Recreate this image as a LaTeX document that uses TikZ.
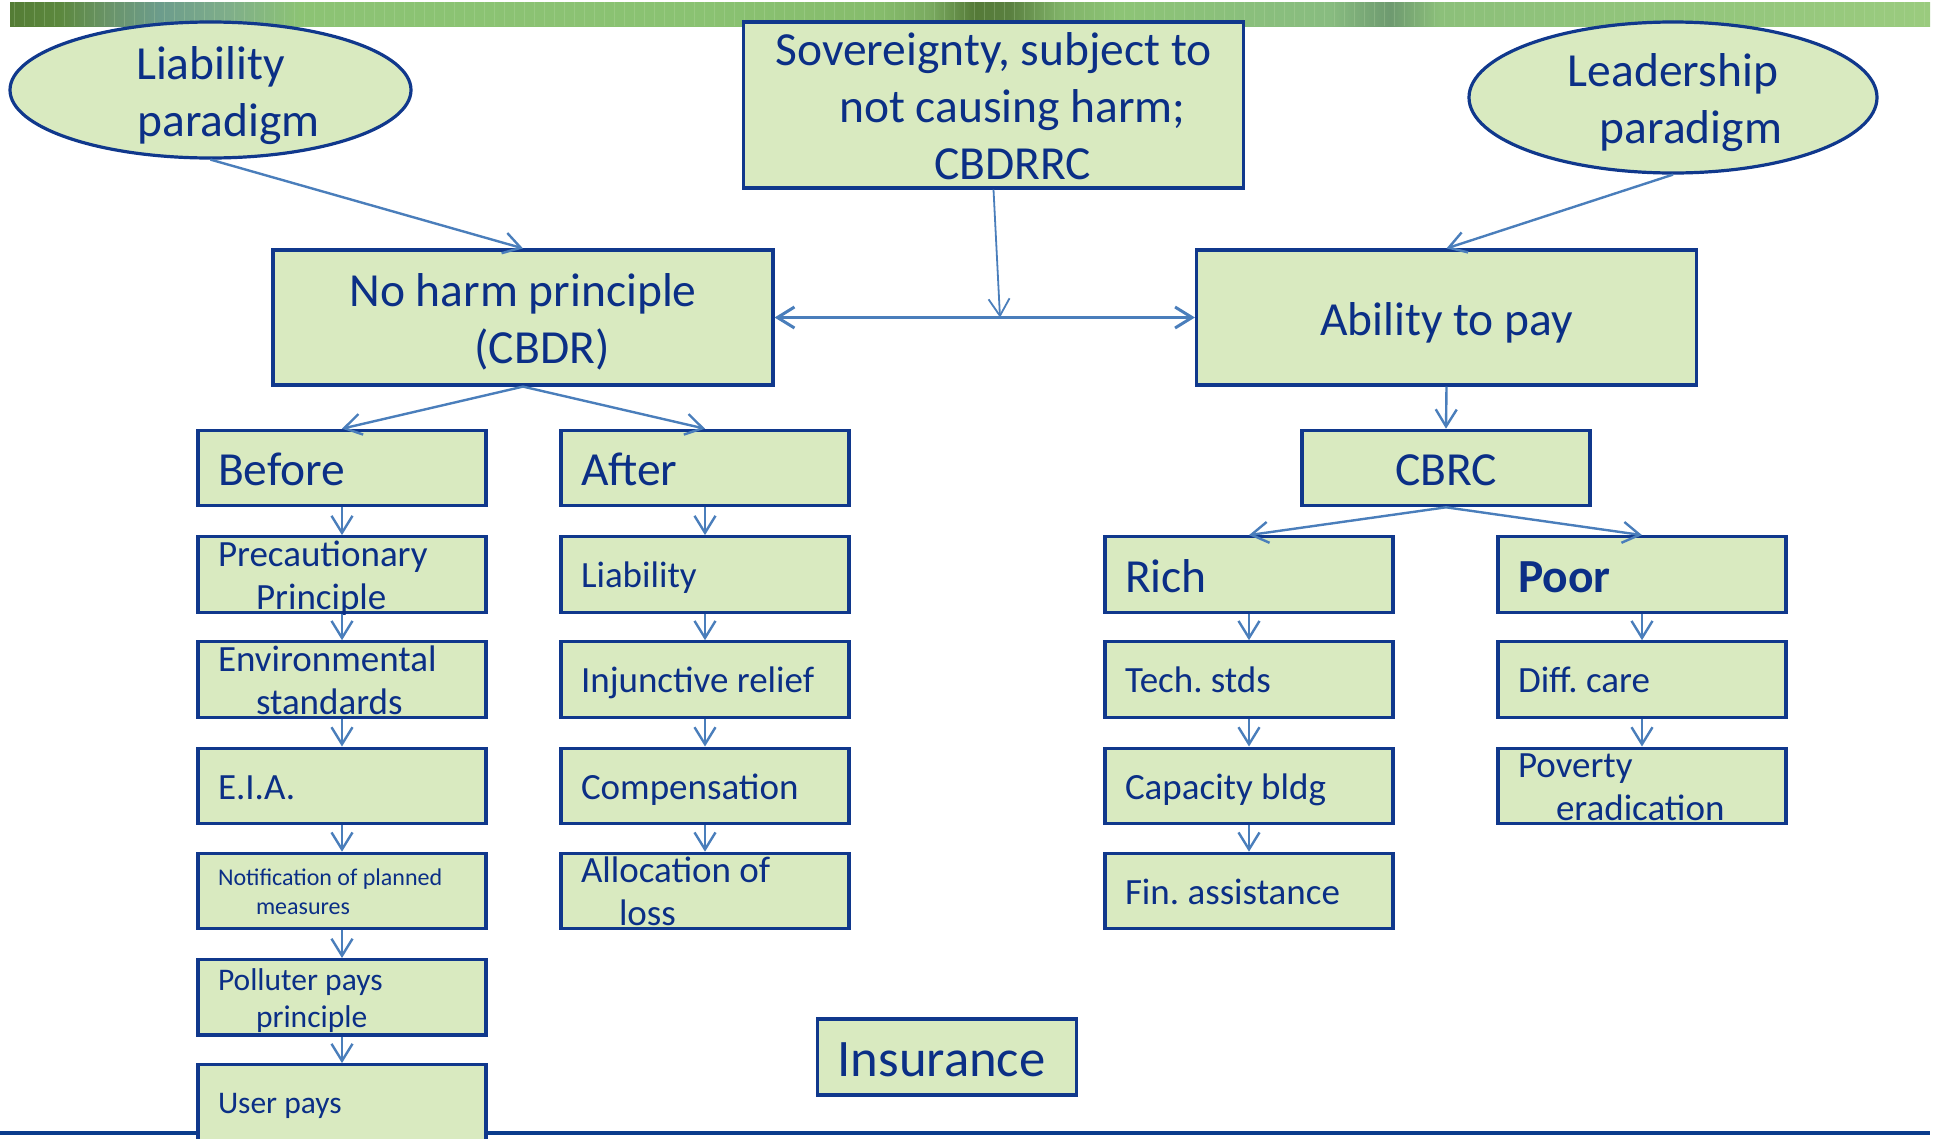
\documentclass[tikz,border=0pt]{standalone}
\usepackage{fontspec}
\setmainfont{Carlito}
\usetikzlibrary{arrows.meta,shapes.geometric}

% palette
\definecolor{boxfill}{HTML}{D9EAC0}
\definecolor{boxline}{HTML}{10388C}
\definecolor{txt}{HTML}{0B2F86}
\definecolor{arr}{HTML}{4A7EBB}
\definecolor{rulecol}{HTML}{0A3C8C}

% colours of the decorative header band
\definecolor{barA}{HTML}{547C35}
\definecolor{barB}{HTML}{5C883E}
\definecolor{barC}{HTML}{6A946A}
\definecolor{barD}{HTML}{6C9C8C}
\definecolor{barE}{HTML}{7FAE8A}
\definecolor{barF}{HTML}{8CC374}
\definecolor{barG}{HTML}{8AC272}
\definecolor{barH}{HTML}{86BC6C}
\definecolor{barI}{HTML}{7AAA60}
\definecolor{barJ}{HTML}{557A38}
\definecolor{barK}{HTML}{5A8040}
\definecolor{barL}{HTML}{80B268}
\definecolor{barM}{HTML}{8DC476}
\definecolor{barN}{HTML}{88BC80}
\definecolor{barO}{HTML}{6E9A70}
\definecolor{barP}{HTML}{8CC07A}
\definecolor{barQ}{HTML}{9ACB7E}

% stops: position = 25bp + 50bp * (x - 10) / 1920
\pgfdeclarehorizontalshading{topbar}{100bp}{%
  color(0bp)=(barA); color(25bp)=(barA); color(26.3bp)=(barB);
  color(27.6bp)=(barC); color(28.9bp)=(barD); color(30.7bp)=(barE);
  color(32.55bp)=(barF); color(42.97bp)=(barG); color(47.66bp)=(barH);
  color(48.96bp)=(barI); color(50.13bp)=(barJ); color(51.04bp)=(barK);
  color(52.34bp)=(barL); color(53.91bp)=(barM); color(59.38bp)=(barN);
  color(60.94bp)=(barO); color(62.24bp)=(barP); color(75bp)=(barQ);
  color(100bp)=(barQ)}

% type sizes
\newcommand\szBig{\fontsize{47.5bp}{57bp}\selectfont}
\newcommand\szMed{\fontsize{37bp}{43bp}\selectfont}
\newcommand\szSm{\fontsize{24bp}{29bp}\selectfont}
\newcommand\szPP{\fontsize{31.5bp}{37bp}\selectfont}
\newcommand\szIns{\fontsize{52.7bp}{63bp}\selectfont}
% line strut that keeps the x-height near the middle of each line
\newcommand\vstrut{\rule[-0.19\baselineskip]{0pt}{\baselineskip}}

\tikzset{
  >={Straight Barb[length=17bp,width=21bp]},
  box/.style={draw=boxline, line width=3.2bp, fill=boxfill, text=txt,
    inner xsep=0pt, inner ysep=-8bp, minimum height=75.4bp, minimum width=288bp},
  lbox/.style={box, align=flush left, text width=248bp},
  oval/.style={ellipse, draw=boxline, line width=3.2bp, fill=boxfill,
    text=txt, inner sep=-30bp, align=center},
  link/.style={draw=arr, line width=2.4bp, ->},
}

\begin{document}
\frenchspacing
\begin{tikzpicture}[x=1bp, y=-1bp]
\useasboundingbox (0,0) rectangle (1939,1138);
\clip (0,0) rectangle (1939,1138);

% header band
\shade[shading=topbar] (10,2) rectangle (1930,26);
\foreach \i in {0,...,191}
  \draw[barQ!60!white, opacity=0.25, line width=1bp] ({14+10*\i},2) -- ++(0,24);

% bottom rule
\draw[rulecol, line width=3.5bp] (0,1133) -- (1930,1133);

% top row
\node[oval, minimum width=401bp, minimum height=136bp, font=\szBig] (liab) at (210.5,90)
  {\vstrut Liability\\\hspace*{36bp}paradigm\vstrut};
\node[oval, minimum width=408bp, minimum height=151bp, font=\szBig] (lead) at (1673,97.5)
  {\vstrut Leadership\\\hspace*{36bp}paradigm\vstrut};
\node[box, minimum width=500bp, minimum height=166bp, align=center, font=\szBig] (sov) at (993.5,105)
  {\vstrut Sovereignty, subject to\\\hspace*{38bp}not causing harm;\vstrut\\\hspace*{38bp}CBDRRC\vstrut};

% principles
\node[box, minimum width=500bp, minimum height=135bp, align=center, font=\szBig] (noharm) at (523,317.5)
  {\vstrut No harm principle\\\hspace*{38bp}(CBDR)\vstrut};
\node[box, minimum width=500bp, minimum height=135bp, font=\szBig] (ability) at (1446.5,317.5)
  {\vstrut Ability to pay};

% before column
\node[lbox, font=\szBig] (before) at (342,468.0) {\vstrut Before};
\node[lbox, font=\szMed] (precaution) at (342,574.4) {\vstrut Precautionary\\\hspace*{38bp}Principle\vstrut};
\node[lbox, font=\szMed] (envstd) at (342,679.5) {\vstrut Environmental\\\hspace*{38bp}standards\vstrut};
\node[lbox, font=\szMed] (eia) at (342,785.8) {\vstrut E.I.A.};
\node[lbox, font=\szSm] (notif) at (342,891.0) {\vstrut Notification of planned\\\hspace*{38bp}measures\vstrut};
\node[lbox, font=\szPP] (polluter) at (342,997.3) {\vstrut Polluter pays\\\hspace*{38bp}principle\vstrut};
\node[lbox, font=\szPP] (userpays) at (342,1102.4) {\vstrut User pays};

% after column
\node[lbox, font=\szBig] (after) at (705,468.0) {\vstrut After};
\node[lbox, font=\szMed] (liability) at (705,574.4) {\vstrut Liability};
\node[lbox, font=\szMed] (injunct) at (705,679.5) {\vstrut Injunctive relief};
\node[lbox, font=\szMed] (compens) at (705,785.8) {\vstrut Compensation};
\node[lbox, font=\szMed] (alloc) at (705,891.0) {\vstrut Allocation of\\\hspace*{38bp}loss\vstrut};

% ability-to-pay branch
\node[box, font=\szBig] (cbrc) at (1446,468.0) {\vstrut CBRC};
\node[lbox, font=\szBig] (rich) at (1249,574.4) {\vstrut Rich};
\node[lbox, font=\szBig\bfseries] (poor) at (1642,574.4) {\vstrut Poor};
\node[lbox, font=\szMed] (tech) at (1249,679.5) {\vstrut Tech. stds};
\node[lbox, font=\szMed] (capacity) at (1249,785.8) {\vstrut Capacity bldg};
\node[lbox, font=\szMed] (finassist) at (1249,891.0) {\vstrut Fin. assistance};
\node[lbox, font=\szMed] (diffcare) at (1642,679.5) {\vstrut Diff. care};
\node[lbox, font=\szMed] (poverty) at (1642,785.8) {\vstrut Poverty\\\hspace*{38bp}eradication\vstrut};

% insurance
\node[box, minimum width=259bp, minimum height=76bp, align=flush left, text width=219bp, font=\szIns]
  (insurance) at (947,1057) {\vstrut Insurance};

% connectors
\draw[link] (liab.south) -- (noharm.north);
\draw[link] (lead.south) -- (ability.north);
\draw[link, line width=3bp, <->] (noharm.east) -- (ability.west);
\coordinate (join) at (1000,317.5);
\draw[link, line width=1.8bp] (sov.south) -- (join);

\draw[link] (noharm.south) -- (before.north);
\draw[link] (noharm.south) -- (after.north);
\draw[link] (before) -- (precaution);
\draw[link] (precaution) -- (envstd);
\draw[link] (envstd) -- (eia);
\draw[link] (eia) -- (notif);
\draw[link] (notif) -- (polluter);
\draw[link] (polluter) -- (userpays);

\draw[link] (after) -- (liability);
\draw[link] (liability) -- (injunct);
\draw[link] (injunct) -- (compens);
\draw[link] (compens) -- (alloc);

\draw[link] (ability.south) -- (cbrc.north);
\draw[link] (cbrc.south) -- (rich.north);
\draw[link] (cbrc.south) -- (poor.north);
\draw[link] (rich) -- (tech);
\draw[link] (tech) -- (capacity);
\draw[link] (capacity) -- (finassist);
\draw[link] (poor) -- (diffcare);
\draw[link] (diffcare) -- (poverty);
\end{tikzpicture}
\end{document}
